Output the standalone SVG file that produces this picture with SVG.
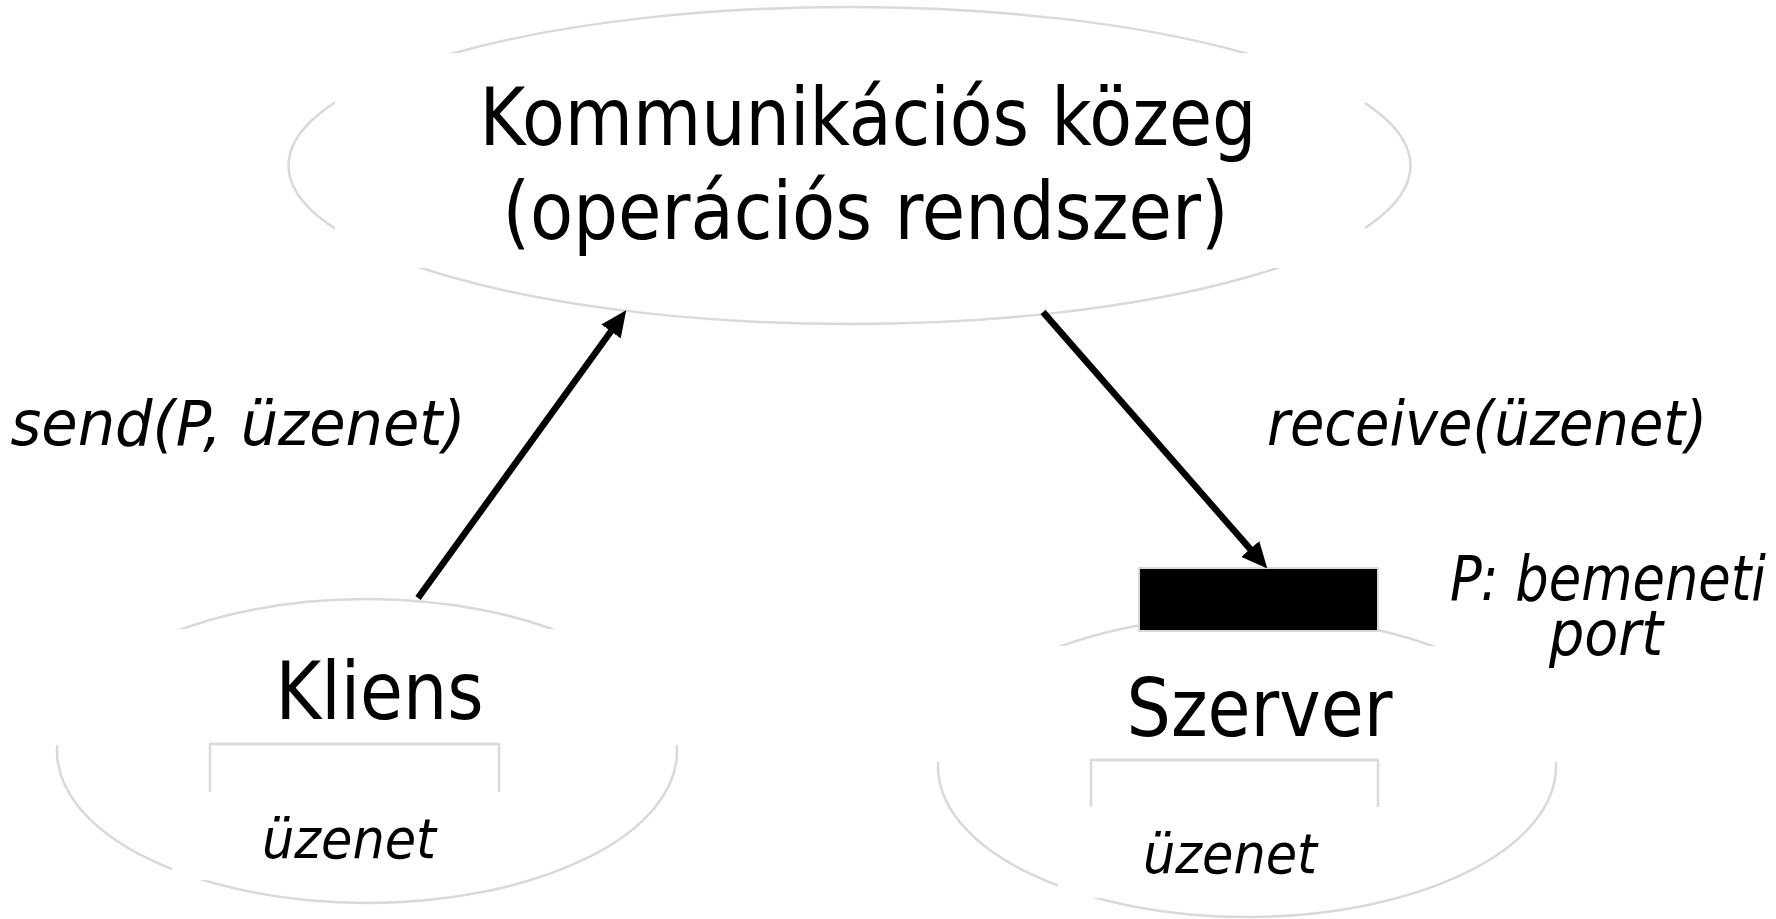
<svg xmlns="http://www.w3.org/2000/svg" width="1776" height="919" viewBox="0 0 1776 919">
  <style>
    .oval { fill: none; stroke: #d9d9d9; stroke-width: 2.5; }
    .box { fill: #ffffff; stroke: none; }
    .bracket { fill: none; stroke: #d9d9d9; stroke-width: 2.5; }
    .big { font-family: "DejaVu Sans", "Liberation Sans", sans-serif; font-size: 80px; fill: #000; text-anchor: middle; }
    .lbl { font-family: "DejaVu Sans", "Liberation Sans", sans-serif; font-size: 62px; font-style: italic; fill: #000; text-anchor: middle; }
    .msg { font-family: "DejaVu Sans", "Liberation Sans", sans-serif; font-size: 56px; font-style: italic; fill: #000; text-anchor: middle; }
    .conn { stroke: #000; stroke-width: 6.5; fill: none; marker-end: url(#arrow); }
  </style>
  <defs>
    <marker id="arrow" markerUnits="userSpaceOnUse" viewBox="0 0 26 24" markerWidth="26" markerHeight="24" refX="12" refY="12" orient="auto">
      <path d="M0,0 L26,12 L0,24 z" fill="#000"/>
    </marker>
  </defs>
  <rect width="1776" height="919" fill="#ffffff"/>

  <g id="kozeg">
    <ellipse class="oval" cx="849.5" cy="165.5" rx="561" ry="158.5"/>
    <rect class="box" x="335" y="53" width="1030" height="215"/>
    <text class="big" x="868" y="145" textLength="777" lengthAdjust="spacingAndGlyphs">Kommunikációs közeg</text>
    <text class="big" x="865.5" y="239" textLength="726" lengthAdjust="spacingAndGlyphs">(operációs rendszer)</text>
  </g>

  <g id="kliens">
    <ellipse class="oval" cx="367" cy="751" rx="310" ry="152"/>
    <rect class="box" x="40" y="629" width="650" height="116"/>
    <rect class="box" x="172" y="792" width="338" height="88"/>
    <path class="bracket" d="M210,792 V744 H499 V792"/>
    <text class="big" x="379.5" y="719" textLength="208" lengthAdjust="spacingAndGlyphs">Kliens</text>
    <text class="msg" x="349" y="858" textLength="174" lengthAdjust="spacingAndGlyphs">üzenet</text>
  </g>

  <g id="szerver">
    <ellipse class="oval" cx="1247" cy="766.5" rx="309" ry="150.5"/>
    <rect class="box" x="925" y="646" width="645" height="116"/>
    <rect class="box" x="1058" y="807" width="312" height="91"/>
    <path class="bracket" d="M1091,807 V760 H1378 V807"/>
    <text class="big" x="1259.5" y="736" textLength="266" lengthAdjust="spacingAndGlyphs">Szerver</text>
    <text class="msg" x="1230" y="873" textLength="174" lengthAdjust="spacingAndGlyphs">üzenet</text>
  </g>

  <g id="port">
    <rect x="1139" y="568" width="239" height="63" fill="#000" stroke="#d9d9d9" stroke-width="2"/>
  </g>

  <g id="connectors">
    <line class="conn" x1="418" y1="598" x2="618" y2="321.7"/>
    <line class="conn" x1="1043" y1="312" x2="1258.1" y2="558"/>
  </g>

  <g id="labels">
    <text class="lbl" x="238" y="445" textLength="455" lengthAdjust="spacingAndGlyphs">send(P, üzenet)</text>
    <text class="lbl" x="1487" y="445" textLength="440" lengthAdjust="spacingAndGlyphs">receive(üzenet)</text>
    <text class="lbl" x="1608" y="600" textLength="316" lengthAdjust="spacingAndGlyphs">P: bemeneti</text>
    <text class="lbl" x="1606" y="655" textLength="114" lengthAdjust="spacingAndGlyphs">port</text>
  </g>
</svg>
